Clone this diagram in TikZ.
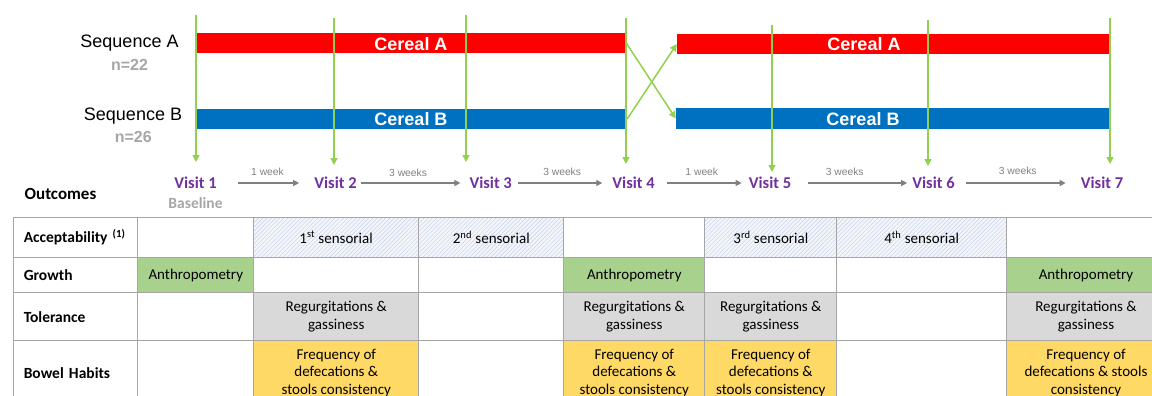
\documentclass[tikz,border=0pt]{standalone}
\usepackage{fontspec}
\setmainfont{Liberation Sans}
\newfontfamily\calib{Carlito}
\usetikzlibrary{arrows.meta,patterns.meta}
\definecolor{cred}{HTML}{FF0000}
\definecolor{cblue}{HTML}{0070C0}
\definecolor{cgreen}{HTML}{92D050}
\definecolor{cpurple}{HTML}{7030A0}
\definecolor{lgray}{HTML}{A6A6A6}
\definecolor{agray}{HTML}{808080}
\definecolor{tgrid}{HTML}{A6A6A6}
\definecolor{fgreen}{HTML}{A9D18E}
\definecolor{fgray}{HTML}{D9D9D9}
\definecolor{fyellow}{HTML}{FFD966}
\definecolor{hatchbg}{HTML}{F4F6FB}
\definecolor{hatchln}{HTML}{CBD5EA}
\tikzset{
  bar/.style={rectangle, inner sep=0pt, minimum height=20pt},
  barlabel/.style={text=white, inner sep=0pt, font=\bfseries\fontsize{18}{21}\selectfont},
  seq/.style={inner sep=0pt, font=\fontsize{18}{21}\selectfont},
  nlab/.style={inner sep=0pt, text=lgray, font=\bfseries\fontsize{16}{19}\selectfont},
  visit/.style={text=cpurple, inner sep=0pt, font=\calib\bfseries\fontsize{16.5}{19}\selectfont},
  garrow/.style={cgreen, line width=1.5pt, -{Triangle[width=7pt,length=7pt]}},
  warrow/.style={agray, line width=1.2pt, -{Triangle[width=6pt,length=6pt]}},
  weeklab/.style={text=agray, inner sep=0pt, font=\fontsize{10.3}{12}\selectfont},
  cell/.style={draw=tgrid, line width=1pt, anchor=north west, inner sep=0pt,
    font=\calib\fontsize{15}{17.4}\selectfont, align=center},
  rowlab/.style={cell, font=\calib\bfseries\fontsize{15.5}{17.4}\selectfont,
    align=left, text width=104pt, inner xsep=10pt},
  hatch/.style={preaction={fill=hatchbg}, pattern={Lines[angle=45,distance=3pt,line width=0.6pt]}, pattern color=hatchln},
}
\newcommand\tcell[6]{\node[cell, minimum width=#3pt, minimum height=#4pt, #5] (#1) at (#2) {#6};}
\begin{document}
\begin{tikzpicture}[x=1pt,y=-1pt]
\useasboundingbox (0,0) rectangle (1152,396);
\clip (0,0) rectangle (1152,396);

% sequence labels
\node[seq] (seqA) at (129.5,43.5) {Sequence A};
\node[nlab] (nA) at (129.5,65) {n=22};
\node[seq] (seqB) at (133,116.5) {Sequence B};
\node[nlab] (nB) at (133.3,136.5) {n=26};

% bars
\node[bar, fill=cred, minimum width=429pt] (a1) at (411.5,43) {};
\node[bar, fill=cred, minimum width=433pt] (a2) at (893.5,44) {};
\node[bar, fill=cblue, minimum width=430pt] (b1) at (412,119) {};
\node[bar, fill=cblue, minimum width=434pt, minimum height=21pt] (b2) at (893,118.5) {};
\node[barlabel] (la1) at (411,44) {Cereal A};
\node[barlabel] (la2) at (864,44.3) {Cereal A};
\node[barlabel] (lb1) at (411,119) {Cereal B};
\node[barlabel] (lb2) at (863,119) {Cereal B};

% crossover
\draw[garrow] (a1.east) -- (b2.west);
\draw[garrow] (b1.east) -- (a2.west);

% vertical green arrows
\foreach \i/\x/\ya/\yb in {1/196/15/162, 2/334/18/165, 3/466/15/162, 4/626/18/164, 5/772/25/172, 6/928/20/166, 7/1110/18/164}{
  \coordinate (gs\i) at (\x,\ya);
  \coordinate (ge\i) at (\x,\yb);
  \draw[garrow] (gs\i) -- (ge\i);
}

% visits
\node[visit] (v1) at (195.5,183) {Visit 1};
\node[visit] (v2) at (335.5,183) {Visit 2};
\node[visit] (v3) at (490.7,183) {Visit 3};
\node[visit] (v4) at (633.6,183) {Visit 4};
\node[visit] (v5) at (770,183) {Visit 5};
\node[visit] (v6) at (933.5,183) {Visit 6};
\node[visit] (v7) at (1102,183) {Visit 7};
\node[text=lgray, inner sep=0pt, font=\calib\bfseries\fontsize{15.5}{18}\selectfont] (base) at (195.5,203) {Baseline};
\node[inner sep=0pt, font=\calib\bfseries\fontsize{17}{20}\selectfont] (outc) at (60.5,193.5) {Outcomes};

\draw[warrow, shorten <=21pt, shorten >=15pt] (v1.east) -- node[weeklab, above=6.5pt, xshift=2pt] (w1) {1 week} (v2.west);
\draw[warrow, shorten <=4pt, shorten >=9pt] (v2.east) -- node[weeklab, above=6pt, xshift=-5pt] (w2) {3 weeks} (v3.west);
\draw[warrow, shorten <=6pt, shorten >=10pt] (v3.east) -- node[weeklab, above=6.5pt] (w3) {3 weeks} (v4.west);
\draw[warrow, shorten <=12pt, shorten >=7pt] (v4.east) -- node[weeklab, above=7pt] (w4) {1 week} (v5.west);
\draw[warrow, shorten <=17pt, shorten >=5pt] (v5.east) -- node[weeklab, above=7pt, xshift=-7pt] (w5) {3 weeks} (v6.west);
\draw[warrow, shorten <=11pt, shorten >=15pt] (v6.east) -- node[weeklab, above=8pt] (w6) {3 weeks} (v7.west);

% table
% row 1
\node[rowlab, minimum width=124pt, minimum height=40.6pt] (r1c1) at (13.3,216.7) {Acceptability \textsuperscript{(1)}};
\tcell{r1c2}{137.3,216.7}{116}{40.6}{}{}
\tcell{r1c3}{253.3,216.7}{165}{40.6}{hatch}{1\textsuperscript{st} sensorial}
\tcell{r1c4}{418.3,216.7}{145}{40.6}{hatch}{2\textsuperscript{nd} sensorial}
\tcell{r1c5}{563.3,216.7}{141}{40.6}{}{}
\tcell{r1c6}{704.3,216.7}{132}{40.6}{hatch}{3\textsuperscript{rd} sensorial}
\tcell{r1c7}{836.3,216.7}{169.7}{40.6}{hatch}{4\textsuperscript{th} sensorial}
\tcell{r1c8}{1006,216.7}{159}{40.6}{}{}
% row 2
\node[rowlab, minimum width=124pt, minimum height=35pt] (r2c1) at (13.3,257.3) {Growth};
\tcell{r2c2}{137.3,257.3}{116}{35}{fill=fgreen}{Anthropometry}
\tcell{r2c3}{253.3,257.3}{165}{35}{}{}
\tcell{r2c4}{418.3,257.3}{145}{35}{}{}
\tcell{r2c5}{563.3,257.3}{141}{35}{fill=fgreen}{Anthropometry}
\tcell{r2c6}{704.3,257.3}{132}{35}{}{}
\tcell{r2c7}{836.3,257.3}{169.7}{35}{}{}
\tcell{r2c8}{1006,257.3}{159}{35}{fill=fgreen}{Anthropometry}
% row 3
\node[rowlab, minimum width=124pt, minimum height=47.7pt] (r3c1) at (13.3,292.3) {Tolerance};
\tcell{r3c2}{137.3,292.3}{116}{47.7}{}{}
\tcell{r3c3}{253.3,292.3}{165}{47.7}{fill=fgray}{Regurgitations \&\\gassiness}
\tcell{r3c4}{418.3,292.3}{145}{47.7}{}{}
\tcell{r3c5}{563.3,292.3}{141}{47.7}{fill=fgray}{Regurgitations \&\\gassiness}
\tcell{r3c6}{704.3,292.3}{132}{47.7}{fill=fgray}{Regurgitations \&\\gassiness}
\tcell{r3c7}{836.3,292.3}{169.7}{47.7}{}{}
\tcell{r3c8}{1006,292.3}{159}{47.7}{fill=fgray}{Regurgitations \&\\gassiness}
% row 4
\node[rowlab, minimum width=124pt, minimum height=65pt] (r4c1) at (13.3,340) {Bowel Habits};
\tcell{r4c2}{137.3,340}{116}{65}{}{}
\tcell{r4c3}{253.3,340}{165}{65}{fill=fyellow}{Frequency of\\defecations \&\\stools consistency}
\tcell{r4c4}{418.3,340}{145}{65}{}{}
\tcell{r4c5}{563.3,340}{141}{65}{fill=fyellow}{Frequency of\\defecations \&\\stools consistency}
\tcell{r4c6}{704.3,340}{132}{65}{fill=fyellow}{Frequency of\\defecations \&\\stools consistency}
\tcell{r4c7}{836.3,340}{169.7}{65}{}{}
\tcell{r4c8}{1006,340}{159}{65}{fill=fyellow}{Frequency of\\defecations \& stools\\consistency}
\end{tikzpicture}
\end{document}
